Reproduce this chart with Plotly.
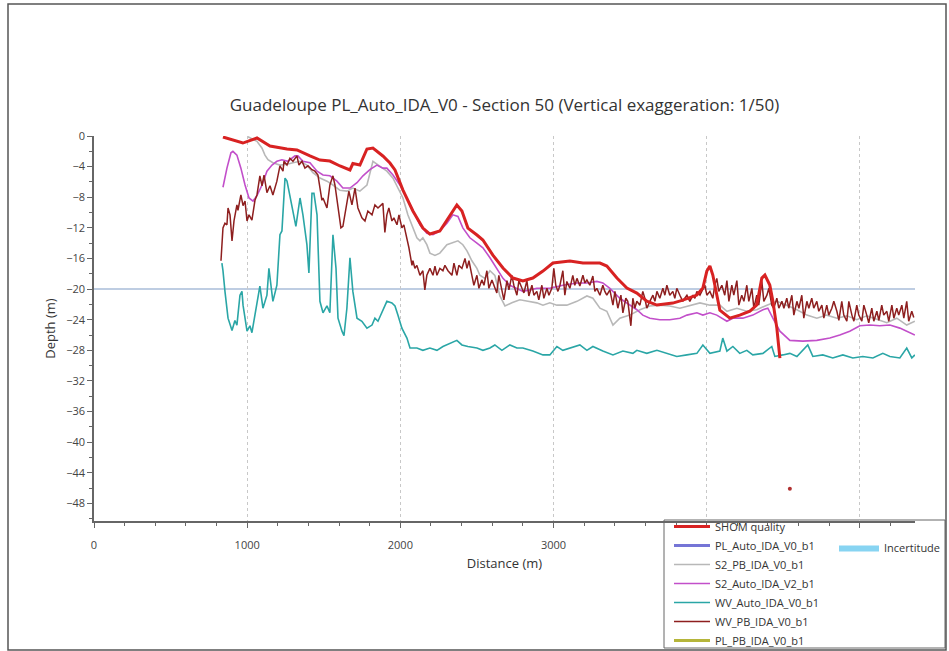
import plotly.graph_objects as go

TITLE = "Guadeloupe PL_Auto_IDA_V0 - Section 50 (Vertical exaggeration: 1/50)"
X_TITLE = "Distance (m)"
Y_TITLE = "Depth (m)"
REF_DEPTH = -20

# x tick labels; 4000 and 5000 are hidden behind the legend box in the source chart
X_TICKS = [0, 1000, 2000, 3000, 4000, 5000]
X_TICK_LABELS = ["0", "1000", "2000", "3000", "", ""]

# (distance m, depth m)
SHOM = [(842,-0.13),(972,-0.92),(1064,-0.26),(1149,-1.31),(1260,-1.70),(1325,-1.83),(1410,-2.61),
        (1475,-3.14),(1540,-3.27),(1606,-3.92),(1671,-4.44),(1690,-3.6),(1736,-3.79),(1782,-1.70),
        (1821,-1.57),(1886,-2.61),(1932,-3.53),(1965,-4.44),(2017,-7.06),(2082,-9.80),(2147,-12.03),
        (2193,-12.81),(2258,-12.42),(2324,-10.33),(2369,-9.02),(2402,-9.80),(2441,-12.03),(2500,-12.94),
        (2539,-13.59),(2604,-15.56),(2670,-17.25),(2735,-18.56),(2800,-18.95),(2865,-18.56),(2931,-17.65),
        (2996,-16.60),(3107,-16.34),(3192,-16.60),(3303,-16.60),(3348,-16.99),(3414,-18.56),(3479,-19.87),
        (3544,-20.52),(3609,-21.57),(3675,-22.09),(3779,-21.83),(3844,-21.44),(3936,-20.78),(3975,-19.87),
        (4001,-17.65),(4021,-16.99),(4040,-18.17),(4066,-20.78),(4086,-22.75),(4151,-23.79),(4216,-23.40),
        (4282,-22.88),(4327,-22.09),(4360,-18.56),(4380,-18.17),(4412,-19.48),(4432,-21.57),(4458,-25.10),
        (4478,-29.02)]

PL_AUTO = []
PL_PB = []

S2_PB = [(1005,-0.1),(1064,-0.7),(1097,-1.6),(1116,-2.5),(1136,-3.1),(1168,-3.5),(1214,-3.8),(1260,-3.7),
         (1299,-3.5),(1345,-3.3),(1390,-3.8),(1429,-4.8),(1475,-5.5),(1521,-5.9),(1560,-6.4),(1606,-7.1),
         (1651,-7.2),(1690,-6.8),(1736,-7.2),(1782,-6.4),(1821,-3.3),(1867,-3.9),(1912,-4.6),(1952,-5.5),
         (1984,-6.8),(2017,-8.1),(2049,-10.3),(2082,-12.0),(2108,-13.3),(2128,-13.7),(2147,-13.3),(2173,-14.2),
         (2193,-15.3),(2226,-15.6),(2258,-15.3),(2304,-14.2),(2337,-14.0),(2376,-13.7),(2408,-14.2),(2435,-15.0),
         (2467,-16.3),(2500,-17.3),(2519,-18.2),(2552,-18.6),(2585,-17.6),(2617,-18.2),(2650,-20.9),(2683,-22.2),
         (2728,-21.8),(2780,-21.4),(2833,-21.6),(2891,-21.8),(2931,-22.1),(2976,-21.8),(3022,-22.1),(3087,-22.1),
         (3153,-21.6),(3218,-20.9),(3257,-21.2),(3303,-22.5),(3348,-22.9),(3388,-24.7),(3433,-23.8),(3498,-23.4),
         (3564,-22.7),(3629,-22.2),(3694,-22.1),(3759,-22.2),(3825,-22.5),(3890,-22.2),(3956,-21.8),(4021,-22.1),
         (4086,-22.1),(4132,-22.9),(4197,-22.5),(4262,-22.9),(4327,-22.7),(4393,-22.1),(4458,-21.6),(4523,-22.1),
         (4589,-22.7),(4654,-23.4),(4719,-23.8),(4784,-23.4),(4850,-23.8),(4915,-23.5),(4980,-24.0),(5045,-23.5),
         (5111,-24.0),(5176,-24.4),(5241,-23.8),(5306,-24.7),(5359,-24.2)]

S2_AUTO = [(842,-6.7),(868,-4.2),(894,-2.2),(907,-2.0),(933,-2.5),(959,-4.2),(986,-6.4),(1012,-8.1),(1038,-8.5),
           (1064,-7.8),(1097,-6.4),(1129,-4.6),(1162,-3.8),(1194,-3.3),(1227,-3.1),(1266,-3.3),(1312,-2.6),
           (1331,-2.6),(1364,-3.3),(1410,-3.5),(1456,-4.6),(1495,-5.1),(1540,-5.2),(1586,-5.9),(1625,-6.8),
           (1671,-6.8),(1717,-6.1),(1756,-5.2),(1801,-4.4),(1847,-3.8),(1886,-4.2),(1912,-4.2),(1952,-5.1),
           (1997,-6.4),(2043,-8.1),(2082,-9.8),(2128,-11.6),(2173,-12.7),(2213,-12.9),(2258,-12.4),(2304,-11.4),
           (2343,-10.3),(2376,-10.5),(2408,-12.0),(2454,-13.3),(2500,-14.0),(2539,-14.6),(2585,-15.9),(2630,-17.3),
           (2670,-18.6),(2715,-19.5),(2761,-19.9),(2800,-20.3),(2846,-20.1),(2891,-19.9),(2931,-19.9),(2976,-19.9),
           (3061,-19.5),(3153,-19.2),(3218,-19.2),(3283,-19.0),(3322,-19.2),(3368,-19.9),(3433,-21.2),(3505,-22.1),
           (3544,-22.7),(3583,-23.4),(3629,-23.8),(3694,-24.0),(3759,-24.0),(3825,-23.8),(3871,-23.4),(3936,-23.1),
           (3975,-23.4),(4021,-23.1),(4066,-23.4),(4132,-24.2),(4171,-23.8),(4236,-23.8),(4301,-23.4),(4367,-22.7),
           (4399,-22.5),(4432,-23.8),(4478,-25.5),(4543,-26.7),(4628,-26.8),(4719,-26.7),(4804,-26.4),(4869,-26.0),
           (4934,-25.5),(5000,-24.8),(5065,-24.7),(5130,-24.8),(5196,-24.7),(5261,-25.1),(5326,-25.7),(5359,-26.0)]

WV_AUTO = [(835,-16.6),(842,-17.6),(855,-20.3),(875,-23.8),(901,-25.4),(920,-24.1),(933,-24.7),(953,-20.8),
           (966,-20.3),(973,-22.1),(999,-25.5),(1018,-24.8),(1031,-25.7),(1051,-23.4),(1083,-19.6),(1103,-22.5),
           (1129,-20.8),(1142,-17.3),(1168,-21.6),(1194,-19.5),(1214,-12.9),(1227,-12.4),(1247,-5.5),(1260,-5.9),
           (1292,-9.2),(1318,-11.8),(1345,-8.1),(1364,-10.3),(1390,-14.2),(1403,-17.9),(1423,-7.5),(1436,-7.5),
           (1456,-10.3),(1475,-21.6),(1495,-23.1),(1521,-22.2),(1540,-23.1),(1560,-12.9),(1580,-17.3),(1593,-23.8),
           (1619,-25.5),(1632,-26.1),(1651,-22.5),(1671,-15.9),(1690,-20.3),(1717,-23.8),(1749,-24.2),(1782,-25.1),
           (1815,-24.7),(1834,-23.8),(1854,-24.2),(1880,-23.1),(1912,-21.6),(1945,-21.8),(1965,-22.2),(1984,-23.4),
           (2010,-25.1),(2043,-26.4),(2063,-27.7),(2108,-27.7),(2147,-28.0),(2193,-27.7),(2239,-28.0),(2278,-27.5),
           (2324,-27.1),(2369,-26.7),(2402,-27.3),(2441,-27.5),(2500,-27.7),(2539,-28.0),(2585,-27.7),(2617,-27.3),
           (2663,-28.0),(2715,-27.3),(2761,-27.7),(2800,-27.7),(2865,-28.1),(2931,-28.6),(2976,-28.6),(3022,-27.5),
           (3061,-28.0),(3107,-27.7),(3172,-27.3),(3218,-28.0),(3257,-27.5),(3322,-28.1),(3388,-28.6),(3453,-28.1),
           (3518,-28.4),(3544,-28.0),(3609,-28.4),(3675,-28.0),(3740,-28.4),(3805,-28.8),(3871,-28.6),(3936,-28.4),
           (3975,-27.3),(4021,-28.4),(4086,-28.1),(4105,-26.4),(4132,-28.1),(4171,-27.5),(4216,-28.4),(4262,-28.0),
           (4301,-28.6),(4367,-28.4),(4425,-27.5),(4445,-28.8),(4497,-28.6),(4543,-28.4),(4589,-28.8),(4660,-27.3),
           (4693,-28.8),(4758,-28.6),(4823,-29.0),(4889,-28.6),(4954,-29.0),(5019,-28.8),(5085,-29.0),(5150,-28.4),
           (5196,-28.8),(5261,-29.0),(5306,-27.7),(5339,-29.0),(5359,-28.6)]

WV_PB = [(829,-16.3),(842,-12.0),(855,-11.4),(868,-11.6),(875,-9.4),(888,-10.3),(901,-13.7),(914,-11.1),(933,-9.0),
         (940,-9.7),(959,-7.7),(973,-9.1),(986,-8.5),(999,-11.1),(1012,-10.3),(1031,-11.0),(1051,-8.4),(1064,-7.7),
         (1083,-5.2),(1097,-6.5),(1110,-5.1),(1129,-7.4),(1149,-6.5),(1168,-7.7),(1194,-5.9),(1214,-3.9),(1234,-4.6),
         (1240,-3.3),(1260,-3.8),(1279,-2.9),(1299,-3.3),(1325,-2.6),(1338,-3.8),(1358,-3.3),(1377,-4.2),(1397,-3.9),
         (1423,-4.4),(1442,-4.6),(1462,-5.1),(1488,-8.4),(1495,-8.1),(1521,-9.4),(1540,-6.4),(1560,-5.2),(1573,-6.4),
         (1593,-9.4),(1612,-12.0),(1625,-11.8),(1651,-8.5),(1664,-7.2),(1684,-9.0),(1704,-6.8),(1723,-9.4),
         (1749,-10.7),(1769,-11.1),(1788,-9.8),(1815,-10.3),(1834,-9.0),(1854,-9.4),(1886,-8.8),(1899,-12.6),
         (1912,-10.3),(1925,-9.4),(1945,-11.1),(1958,-10.7),(1978,-11.6),(1991,-10.3),(2010,-12.0),(2023,-11.6),
         (2043,-13.3),(2056,-14.6),(2076,-16.9),(2082,-16.3),(2095,-17.3),(2108,-16.9),(2128,-18.2),(2147,-17.6),
         (2160,-20.1),(2173,-18.2),(2193,-17.3),(2213,-18.2),(2226,-17.0),(2239,-18.2),(2258,-17.3),(2278,-17.6),
         (2291,-16.9),(2311,-17.6),(2337,-18.2),(2350,-16.6),(2369,-18.2),(2382,-16.9),(2402,-17.3),(2422,-16.0),
         (2435,-17.3),(2448,-16.3),(2467,-18.2),(2480,-19.5),(2500,-18.2),(2513,-19.9),(2532,-18.8),(2546,-19.5),
         (2565,-17.6),(2578,-19.9),(2598,-18.8),(2611,-19.5),(2630,-20.5),(2643,-18.2),(2663,-20.3),(2676,-21.4),
         (2696,-18.9),(2709,-20.1),(2728,-18.2),(2741,-19.5),(2761,-20.8),(2774,-18.9),(2794,-19.9),(2807,-20.5),
         (2826,-18.9),(2839,-20.9),(2859,-19.5),(2872,-20.8),(2891,-20.3),(2904,-21.4),(2924,-19.5),(2937,-21.2),
         (2957,-19.9),(2970,-20.8),(2989,-19.9),(3002,-17.3),(3015,-19.5),(3029,-20.3),(3042,-19.5),(3061,-17.6),
         (3074,-20.8),(3087,-19.0),(3107,-19.9),(3126,-18.2),(3139,-19.5),(3153,-18.6),(3172,-19.6),(3192,-18.2),
         (3205,-19.2),(3218,-18.8),(3237,-19.5),(3257,-18.3),(3270,-20.3),(3283,-19.9),(3303,-20.8),(3322,-19.5),
         (3335,-20.3),(3348,-20.8),(3368,-20.1),(3388,-22.1),(3401,-20.3),(3420,-22.5),(3440,-20.8),(3453,-23.1),
         (3472,-21.2),(3485,-21.6),(3505,-24.8),(3518,-21.2),(3531,-22.5),(3544,-21.6),(3564,-22.1),(3583,-20.3),
         (3596,-21.2),(3609,-22.5),(3629,-21.6),(3649,-20.8),(3662,-21.6),(3675,-20.3),(3694,-21.2),(3714,-19.9),
         (3727,-20.8),(3740,-19.5),(3759,-20.8),(3779,-20.3),(3792,-21.2),(3805,-19.9),(3825,-20.8),(3844,-21.6),
         (3857,-21.2),(3871,-20.8),(3890,-21.6),(3910,-20.8),(3923,-21.2),(3936,-20.3),(3956,-20.8),(3975,-19.9),
         (3988,-19.5),(4001,-20.8),(4021,-20.3),(4040,-21.2),(4053,-19.5),(4066,-18.6),(4079,-20.3),(4099,-19.5),
         (4118,-20.8),(4132,-18.9),(4145,-21.6),(4164,-19.5),(4177,-20.8),(4197,-18.9),(4210,-22.1),(4229,-20.8),
         (4243,-21.6),(4262,-19.5),(4275,-21.6),(4295,-19.9),(4308,-22.5),(4327,-20.8),(4340,-22.1),(4360,-19.0),
         (4373,-21.6),(4393,-20.8),(4406,-19.9),(4425,-22.1),(4438,-22.5),(4458,-21.2),(4471,-22.5),(4491,-21.6),
         (4504,-22.5),(4523,-21.2),(4536,-22.5),(4556,-20.8),(4569,-23.4),(4589,-21.6),(4602,-22.5),(4621,-20.8),
         (4634,-23.8),(4654,-21.6),(4667,-22.5),(4686,-21.2),(4699,-22.5),(4719,-21.6),(4732,-22.9),(4752,-22.1),
         (4765,-23.8),(4784,-22.1),(4797,-23.4),(4817,-22.5),(4830,-21.6),(4850,-22.9),(4863,-24.1),(4882,-21.6),
         (4895,-23.4),(4915,-24.2),(4928,-21.6),(4948,-23.4),(4961,-24.2),(4980,-22.1),(4993,-23.4),(5013,-24.2),
         (5026,-22.1),(5045,-23.4),(5058,-24.4),(5078,-22.5),(5091,-24.2),(5111,-22.9),(5124,-24.1),(5143,-22.1),
         (5156,-23.4),(5176,-22.9),(5189,-24.2),(5209,-22.1),(5222,-23.8),(5241,-22.5),(5254,-23.4),(5274,-22.1),
         (5287,-23.8),(5306,-21.6),(5319,-24.2),(5339,-22.9),(5352,-23.7)]

STRAY_POINT = [(4543, -46.1)]

X_RANGE = [0, 5360]
Y_RANGE = [-50.3, 0]


def xy(pairs):
    if not pairs:
        return [None], [None]
    xs, ys = zip(*pairs)
    return list(xs), list(ys)


FONT = "Open Sans, Noto Sans, sans-serif"
fig = go.Figure()

series = [
    # name, data, color, width, legend rank
    ("PL_PB_IDA_V0_b1", PL_PB, "#b5b53a", 3, 7),
    ("S2_PB_IDA_V0_b1", S2_PB, "#b8b8b8", 1.6, 3),
    ("S2_Auto_IDA_V2_b1", S2_AUTO, "#c24fca", 1.6, 4),
    ("PL_Auto_IDA_V0_b1", PL_AUTO, "#7575d6", 3, 2),
    ("WV_Auto_IDA_V0_b1", WV_AUTO, "#2aa6a6", 1.6, 5),
    ("WV_PB_IDA_V0_b1", WV_PB, "#8e1f1f", 1.5, 6),
    ("SHOM quality", SHOM, "#d82222", 3, 1),
]
for name, data, color, width, rank in series:
    x, y = xy(data)
    fig.add_trace(go.Scatter(x=x, y=y, mode="lines", name=name, legendrank=rank,
                             line=dict(color=color, width=width), legend="legend"))

sx, sy = xy(STRAY_POINT)
fig.add_trace(go.Scatter(x=sx, y=sy, mode="markers", showlegend=False,
                         marker=dict(color="#b03030", size=4)))

fig.add_trace(go.Scatter(x=[None], y=[None], mode="lines", fill="toself", name="Incertitude",
                         fillcolor="#87d4f2", line=dict(color="#87d4f2", width=0), legend="legend2"))

fig.add_hline(y=REF_DEPTH, line=dict(color="#a9bcd8", width=1.5), layer="below")

fig.update_layout(
    width=949, height=651,
    margin=dict(l=94, r=34, t=136, b=130, autoexpand=False),
    paper_bgcolor="white", plot_bgcolor="white",
    font=dict(family=FONT, size=11, color="#444"),
    title=dict(text=TITLE, x=0.5, xref="paper", xanchor="center", y=1 - 105 / 651, yanchor="middle",
               font=dict(family=FONT, size=17, color="#333")),
    xaxis=dict(range=X_RANGE, tickmode="array", tickvals=X_TICKS, ticktext=X_TICK_LABELS, showgrid=True,
               gridcolor="#c8c8c8", griddash="dot", gridwidth=1, zeroline=False,
               showline=True, linecolor="#666", linewidth=1.5, ticks="outside", ticklen=5,
               ticklabelstandoff=8,
               tickcolor="#666", minor=dict(dtick=200, tick0=0, ticks="outside", ticklen=3, tickcolor="#666",
                                            showgrid=False),
               title=dict(text=X_TITLE, font=dict(size=13, color="#333"), standoff=8),
               tickfont=dict(size=11, color="#444")),
    yaxis=dict(range=Y_RANGE, tickmode="linear", tick0=0, dtick=4, showgrid=False, zeroline=False,
               showline=True, linecolor="#666", linewidth=1.5, ticks="outside", ticklen=5, tickcolor="#666",
               minor=dict(dtick=2, ticks="outside", ticklen=3, tickcolor="#666"),
               title=dict(text=Y_TITLE, font=dict(size=13, color="#333"), standoff=8),
               tickfont=dict(size=11, color="#444")),
    legend=dict(x=(669 - 94) / 821, xanchor="left", y=(521 - 512) / 385, yanchor="top",
                bgcolor="rgba(0,0,0,0)", borderwidth=0, font=dict(size=11, color="#333"),
                itemwidth=36, tracegroupgap=0),
    legend2=dict(x=(834 - 94) / 821, xanchor="left", y=(521 - 533) / 385, yanchor="top",
                 bgcolor="rgba(0,0,0,0)", borderwidth=0, font=dict(size=11, color="#333"), itemwidth=40),
    showlegend=True,
    shapes=[
        dict(type="line", xref="paper", yref="paper", x0=0, x1=1, y0=1, y1=1,
             line=dict(color="#888", width=2)),
        dict(type="rect", xref="paper", yref="paper", x0=(664 - 94) / 821, x1=(945 - 94) / 821,
             y0=(521 - 648) / 385, y1=(521 - 520) / 385, line=dict(color="#666", width=1),
             fillcolor="white", layer="below"),
        dict(type="rect", xref="paper", yref="paper", x0=(8 - 94) / 821, x1=(946 - 94) / 821,
             y0=(521 - 650) / 385, y1=(521 - 4) / 385, line=dict(color="#555", width=1.5),
             fillcolor="rgba(0,0,0,0)", layer="below"),
    ],
)

fig.write_html("out.html")
